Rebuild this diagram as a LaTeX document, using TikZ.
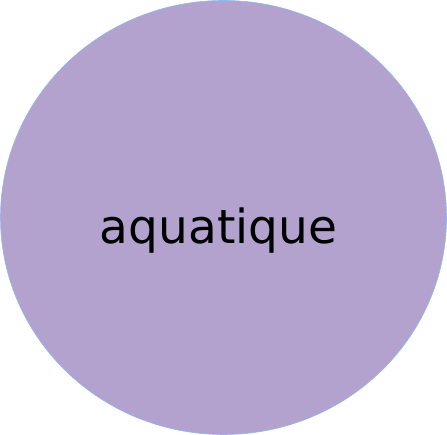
\documentclass[tikz,border=0pt]{standalone}
\usepackage{fontspec}
\setmainfont{DejaVu Sans}
\definecolor{lav}{HTML}{B3A2CE}
\definecolor{rim}{HTML}{8FB8F0}
\begin{document}
\begin{tikzpicture}[x=1pt,y=1pt,
  blob/.style={fill=lav,draw=rim,line width=0.6pt},
  lbl/.style={font=\fontsize{47}{56}\selectfont,text=black,anchor=base,inner sep=0pt}]
\useasboundingbox (0,0) rectangle (447,435);
\path[blob] (223.5,217.5) ellipse [x radius=223,y radius=217];
\node[lbl] (t) at (218.5,191) {aquatique};
\end{tikzpicture}
\end{document}
